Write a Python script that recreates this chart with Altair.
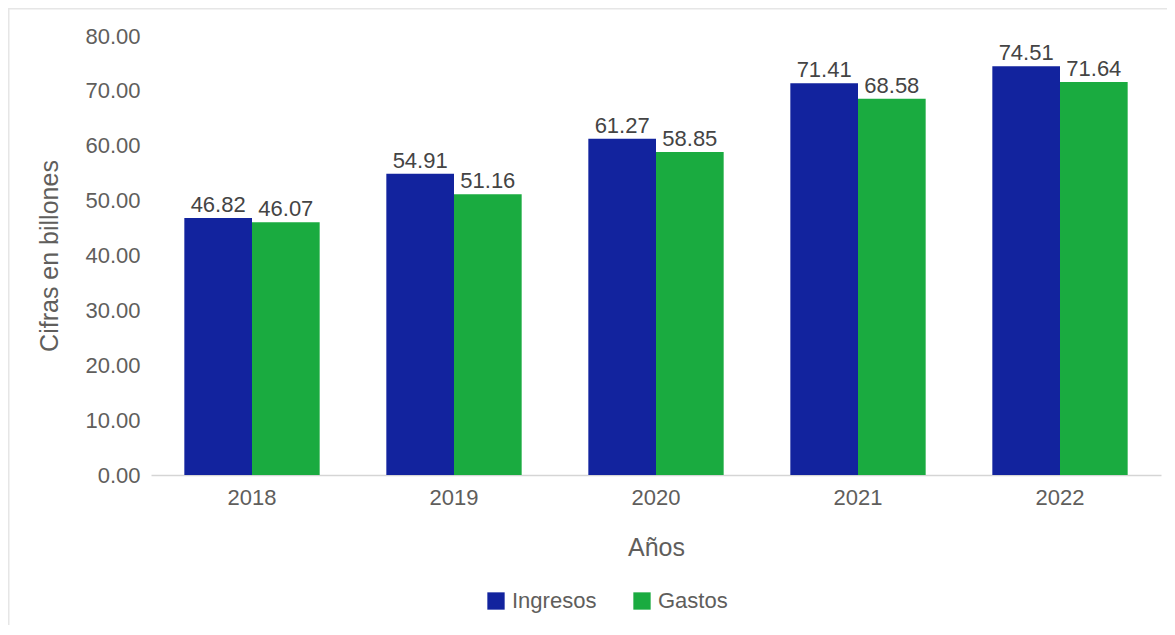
import altair as alt
import pandas as pd

years = ["2018", "2019", "2020", "2021", "2022"]
ingresos = [46.82, 54.91, 61.27, 71.41, 74.51]
gastos = [46.07, 51.16, 58.85, 68.58, 71.64]
series = ["Ingresos", "Gastos"]
colors = ["#12239E", "#1AAB40"]
y_ticks = [0, 10, 20, 30, 40, 50, 60, 70, 80]

rows = []
for i, y in enumerate(years):
    rows.append({"Año": y, "Serie": "Ingresos", "Valor": ingresos[i]})
    rows.append({"Año": y, "Serie": "Gastos", "Valor": gastos[i]})
df = pd.DataFrame(rows)

FONT = "Liberation Sans"
GRAY = "#605E5C"

x_enc = alt.X("Año:N", title="Años",
              scale=alt.Scale(paddingInner=0.33, paddingOuter=0.165),
              axis=alt.Axis(labelAngle=0, ticks=False, labelPadding=12,
                            labelFontSize=22, labelColor=GRAY, labelFont=FONT,
                            titleFontSize=25, titleColor=GRAY, titleFont=FONT,
                            titleFontWeight="normal", titlePadding=27,
                            domainColor="#D5D5D5", domainWidth=1.5))
xoff = alt.XOffset("Serie:N", sort=series, scale=alt.Scale(paddingInner=0, paddingOuter=0))
y_enc = alt.Y("Valor:Q", title="Cifras en billones",
              scale=alt.Scale(domain=[0, 80], nice=False),
              axis=alt.Axis(values=y_ticks, format=".2f", grid=False, domain=False,
                            ticks=False, labelPadding=11, labelFontSize=22,
                            labelColor=GRAY, labelFont=FONT,
                            titleFontSize=25, titleColor=GRAY, titleFont=FONT,
                            titleFontWeight="normal", titlePadding=22))

base = alt.Chart(df)

bars = base.mark_bar().encode(
    x=x_enc,
    xOffset=xoff,
    y=y_enc,
    color=alt.Color("Serie:N", sort=series,
                    scale=alt.Scale(domain=series, range=colors),
                    legend=alt.Legend(title=None, orient="none", direction="horizontal",
                                      legendX=334, legendY=554,
                                      symbolType="square", symbolSize=300,
                                      symbolStrokeWidth=0, labelFontSize=22,
                                      labelColor=GRAY, labelFont=FONT,
                                      labelOffset=5, columnPadding=34)),
)

labels = base.mark_text(baseline="bottom", dy=-1, fontSize=22, font=FONT,
                        color="#444444").encode(
    x=alt.X("Año:N"),
    xOffset=alt.XOffset("Serie:N", sort=series),
    y=alt.Y("Valor:Q"),
    text=alt.Text("Valor:Q", format=".2f"),
)

frame = alt.Chart(pd.DataFrame({"k": [0]})).mark_rect(
    fill=None, stroke="#E6E6E6", strokeWidth=2, clip=False
).encode(
    x=alt.value(-142.5), x2=alt.value(1040),
    y=alt.value(-27.5), y2=alt.value(640),
)

chart = alt.layer(frame, bars, labels).properties(
    width=1010, height=439,
    autosize=alt.AutoSizeParams(type="none"),
    padding={"left": 143, "top": 28, "right": 6, "bottom": 150},
    background="white",
).configure_view(stroke=None)

chart.save("out.html", embed_options={"renderer": "svg", "actions": False})
